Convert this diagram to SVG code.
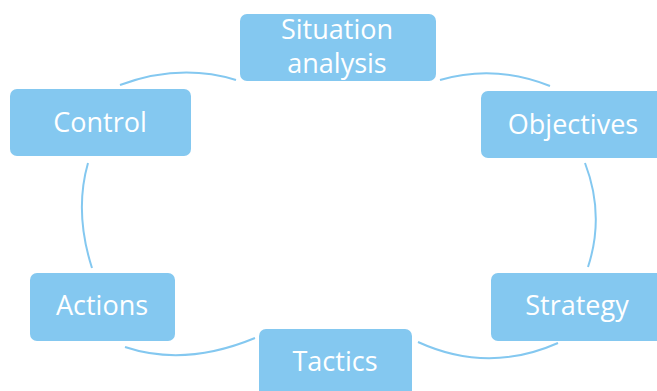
<svg xmlns="http://www.w3.org/2000/svg" width="657" height="391" viewBox="0 0 657 391">
<style>
.box{fill:#84C8F0;}
.lbl{font-family:"Open Sans","Liberation Sans",sans-serif;font-size:27px;fill:#ffffff;text-anchor:middle;}
.conn{fill:none;stroke:#84C8F0;stroke-width:2;}
</style>
<rect width="657" height="391" fill="#ffffff"/>
<g id="connectors">
<path class="conn" d="M120,85 Q180,63 236,80"/>
<path class="conn" d="M440,80 Q495,64 550,86"/>
<path class="conn" d="M585,163 Q605,215 588,267"/>
<path class="conn" d="M418,342 Q488,374 558,343"/>
<path class="conn" d="M125,347 Q185,367 255,338"/>
<path class="conn" d="M88,163 Q74,212 92,268"/>
</g>
<g id="situation-analysis">
<rect class="box" x="240" y="14" width="196" height="67" rx="7"/>
<text class="lbl" x="337" y="39">Situation</text>
<text class="lbl" x="337" y="73">analysis</text>
</g>
<g id="objectives">
<rect class="box" x="481" y="91" width="184" height="67" rx="7"/>
<text class="lbl" x="573" y="134">Objectives</text>
</g>
<g id="strategy">
<rect class="box" x="491" y="273" width="172" height="68" rx="7"/>
<text class="lbl" x="577" y="315">Strategy</text>
</g>
<g id="tactics">
<rect class="box" x="259" y="329" width="153" height="70" rx="7"/>
<text class="lbl" x="335" y="371">Tactics</text>
</g>
<g id="actions">
<rect class="box" x="30" y="273" width="145" height="68" rx="7"/>
<text class="lbl" x="102" y="315">Actions</text>
</g>
<g id="control">
<rect class="box" x="10" y="89" width="181" height="67" rx="7"/>
<text class="lbl" x="100" y="132">Control</text>
</g>
</svg>
